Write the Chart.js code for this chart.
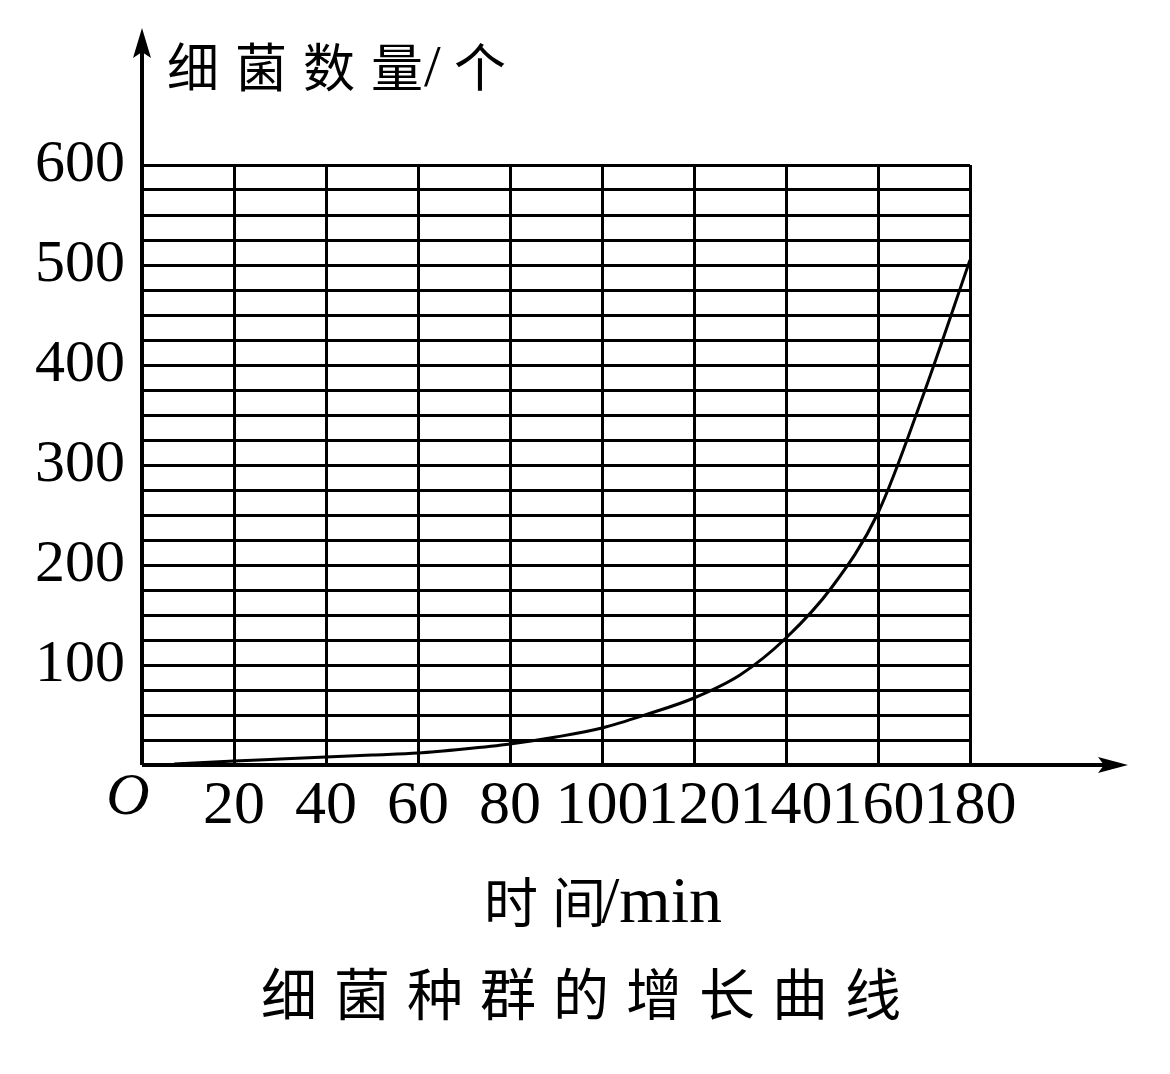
<!DOCTYPE html>
<html>
<head>
<meta charset="utf-8">
<script src="https://cdn.jsdelivr.net/npm/chart.js@4.4.1/dist/chart.umd.min.js"></script>
<style>
    html, body { margin: 0; padding: 0; background: #FFFFFF; }
    #wrap { width: 1170px; height: 1074px; position: relative; }
</style>
</head>
<body>
<div id="wrap"><canvas id="growthChart"></canvas></div>
<script>
// ==========================================
// 细菌种群的增长曲线
// ==========================================

const timeMin = [7, 20, 30, 40, 50, 60, 70, 80, 90, 100, 110, 120, 130, 140, 150, 160, 170, 180];
const bacteriaCount = [1, 4, 6, 8, 10, 12, 16, 21, 28, 37, 51, 67, 90, 127, 178, 252, 372, 505];

const xTickLabels = ["20", "40", "60", "80", "100", "120", "140", "160", "180"];
const yTickLabels = ["100", "200", "300", "400", "500", "600"];

const yTitleCn = "细菌数量";
const yTitleUnit = "个";
const xTitleCn = "时间";
const xTitleUnit = "/min";
const caption = "细菌种群的增长曲线";

const serif = "'Liberation Serif', 'DejaVu Serif', serif";
const cjk = "'Noto Sans CJK SC', sans-serif";

// arrows, axis titles and caption
const axisDecor = {
    id: "axisDecor",
    afterDraw(chart) {
        const ctx = chart.ctx;
        const x0 = chart.scales.x.getPixelForValue(0);
        const y0 = chart.scales.y.getPixelForValue(0);

        ctx.save();
        ctx.strokeStyle = "#000000";
        ctx.fillStyle = "#000000";
        ctx.lineWidth = 4;

        // x axis
        ctx.beginPath();
        ctx.moveTo(x0, y0);
        ctx.lineTo(1105, y0);
        ctx.stroke();
        ctx.beginPath();
        ctx.moveTo(1128, y0);
        ctx.lineTo(1098, y0 - 8);
        ctx.lineTo(1104, y0);
        ctx.lineTo(1098, y0 + 8);
        ctx.closePath();
        ctx.fill();

        // y axis
        ctx.beginPath();
        ctx.moveTo(x0, y0);
        ctx.lineTo(x0, 50);
        ctx.stroke();
        ctx.beginPath();
        ctx.moveTo(x0, 28);
        ctx.lineTo(x0 - 9, 58);
        ctx.lineTo(x0, 52);
        ctx.lineTo(x0 + 9, 58);
        ctx.closePath();
        ctx.fill();

        ctx.textAlign = "left";
        ctx.textBaseline = "middle";

        // y title
        ctx.font = "52px " + cjk;
        ctx.letterSpacing = "16px";
        ctx.fillText(yTitleCn, 167, 67);
        ctx.letterSpacing = "0px";
        ctx.fillText(yTitleUnit, 454, 67);
        ctx.font = "60px " + serif;
        ctx.fillText("/", 424, 70);

        // x title
        ctx.font = "54px " + cjk;
        ctx.letterSpacing = "14px";
        ctx.fillText(xTitleCn, 484, 902);
        ctx.letterSpacing = "0px";
        ctx.textBaseline = "alphabetic";
        ctx.font = "66px " + serif;
        ctx.fillText(xTitleUnit, 601, 922);

        // caption
        ctx.textBaseline = "middle";
        ctx.font = "56px " + cjk;
        ctx.letterSpacing = "17px";
        ctx.fillText(caption, 261, 994);

        // origin
        ctx.letterSpacing = "0px";
        ctx.textAlign = "center";
        ctx.font = "italic 60px " + serif;
        ctx.fillText("O", 128, 798);

        ctx.restore();
    }
};

const growthChart = new Chart(
    document.getElementById("growthChart"),
    {
        type: "line",

        data: {
            datasets: [{
                data: timeMin.map((t, i) => ({ x: t, y: bacteriaCount[i] })),
                borderColor: "#000000",
                borderWidth: 3,
                pointRadius: 0,
                cubicInterpolationMode: "monotone",
                fill: false
            }]
        },

        options: {
            responsive: true,
            maintainAspectRatio: false,
            animation: false,
            devicePixelRatio: 1,

            layout: {
                padding: { left: 0, top: 165, right: 200, bottom: 209 }
            },

            plugins: {
                legend: { display: false },
                tooltip: { enabled: false }
            },

            scales: {
                x: {
                    type: "linear",
                    min: 0,
                    max: 180,
                    afterFit: (s) => { s.height = 100; },
                    afterBuildTicks: (s) => {
                        s.ticks = [0].concat(xTickLabels.map(Number)).map(v => ({ value: v }));
                    },
                    ticks: {
                        color: "#000000",
                        font: { family: serif, size: 62 },
                        padding: 5,
                        maxRotation: 0,
                        autoSkip: false,
                        callback: (v) => xTickLabels.includes(String(v)) ? String(v) : ""
                    },
                    grid: {
                        color: "#000000",
                        lineWidth: 3,
                        drawTicks: false
                    },
                    border: { display: false }
                },

                y: {
                    min: 0,
                    max: 600,
                    afterFit: (s) => { s.width = 142; },
                    ticks: {
                        stepSize: 25,
                        color: "#000000",
                        font: { family: serif, size: 60 },
                        padding: 17,
                        autoSkip: false,
                        callback: (v) => yTickLabels.includes(String(v)) ? String(v) : ""
                    },
                    grid: {
                        color: "#000000",
                        lineWidth: 3,
                        drawTicks: false
                    },
                    border: { display: false }
                }
            }
        },

        plugins: [axisDecor]
    }
);
</script>
</body>
</html>
